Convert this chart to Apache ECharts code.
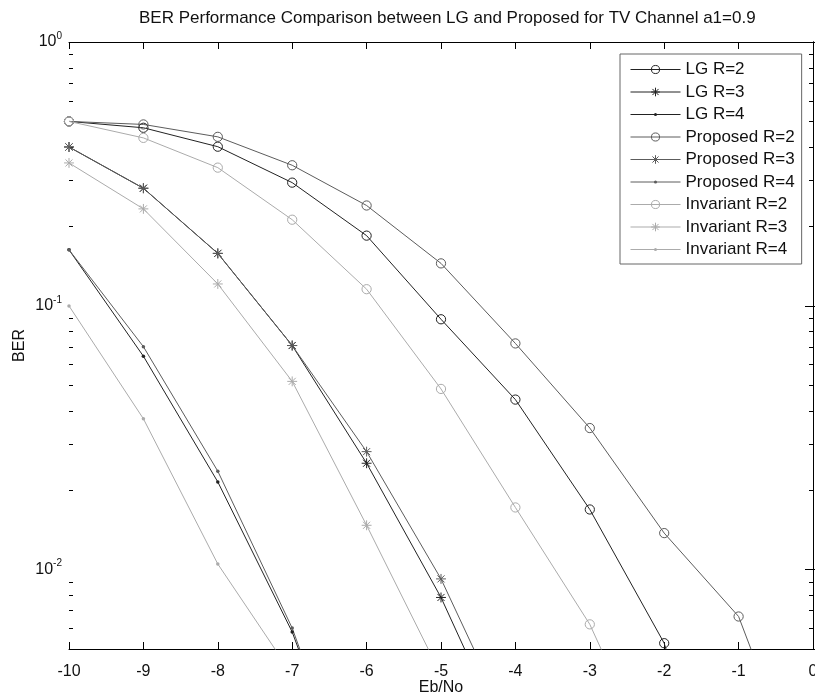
<!DOCTYPE html>
<html>
<head>
<meta charset="utf-8">
<script src="https://cdn.jsdelivr.net/npm/echarts@6/dist/echarts.min.js"></script>
<style>
  html, body { margin: 0; padding: 0; background: #fff; }
  #chart { width: 815px; height: 694px; }
</style>
</head>
<body>
<div id="chart"></div>
<script>
// Eb/No sweep (dB)
const ebNo = [-10, -9, -8, -7, -6, -5, -4, -3, -2, -1, 0];

// BER curves, one list per scheme and rate
const lgR2       = [0.50, 0.473, 0.401, 0.293, 0.1845, 0.0889, 0.0441, 0.0169, 0.00526, 0.0006];
const lgR3       = [0.40, 0.279, 0.158, 0.0707, 0.0253, 0.00784, 0.0019];
const lgR4       = [0.163, 0.0644, 0.0215, 0.0058, 0.001];
const propR2     = [0.50, 0.487, 0.437, 0.341, 0.240, 0.1448, 0.0720, 0.0344, 0.01375, 0.00664, 0.0012];
const propR3     = [0.40, 0.279, 0.158, 0.0707, 0.028, 0.00922, 0.0023];
const propR4     = [0.163, 0.070, 0.0236, 0.0060, 0.001];
const invR2      = [0.50, 0.433, 0.334, 0.212, 0.1156, 0.0484, 0.0172, 0.0062, 0.0015];
const invR3      = [0.348, 0.233, 0.121, 0.0517, 0.01472, 0.0040];
const invR4      = [0.0999, 0.0373, 0.0105, 0.0040];

const seriesNames = [
  'LG R=2', 'LG R=3', 'LG R=4',
  'Proposed R=2', 'Proposed R=3', 'Proposed R=4',
  'Invariant R=2', 'Invariant R=3', 'Invariant R=4'
];

// axis ranges and log-axis minor tick values
const xMin = -10, xMax = 0;
const yMin = 0.005, yMax = 1;
const minorTickValues = [
  0.006, 0.007, 0.008, 0.009,
  0.02, 0.03, 0.04, 0.05, 0.06, 0.07, 0.08, 0.09,
  0.2, 0.3, 0.4, 0.5, 0.6, 0.7, 0.8, 0.9
];

const FONT = '"Liberation Sans", Arial, Helvetica, sans-serif';

// marker shapes drawn in a common 10x10 box so the legend keeps proportions
const SYM_CIRCLE = 'path://M-5,-5M5,5M-4.2,0A4.2,4.2,0,1,1,4.2,0A4.2,4.2,0,1,1,-4.2,0Z';
const SYM_STAR   = 'path://M-5,-5M5,5M0,-4.5L0,4.5M-4.5,0L4.5,0M-3.2,-3.2L3.2,3.2M-3.2,3.2L3.2,-3.2';
const SYM_DOT    = 'path://M-5,-5M5,5M-1.6,0A1.6,1.6,0,1,1,1.6,0A1.6,1.6,0,1,1,-1.6,0Z';

const C_LG = '#222222', C_PROP = '#5c5c5c', C_INV = '#ababab';

const seriesStyle = [
  [lgR2, C_LG, SYM_CIRCLE], [lgR3, C_LG, SYM_STAR], [lgR4, C_LG, SYM_DOT],
  [propR2, C_PROP, SYM_CIRCLE], [propR3, C_PROP, SYM_STAR], [propR4, C_PROP, SYM_DOT],
  [invR2, C_INV, SYM_CIRCLE], [invR3, C_INV, SYM_STAR], [invR4, C_INV, SYM_DOT]
];

function pairs(vals) {
  return vals.map((v, i) => [ebNo[i], v]);
}

function curve(name, vals, color, sym) {
  const filled = sym === SYM_DOT;
  return {
    name: name,
    type: 'line',
    data: pairs(vals),
    symbol: sym,
    symbolSize: 11,
    showAllSymbol: true,
    clip: true,
    animation: false,
    color: color,
    lineStyle: { color: color, width: 1 },
    itemStyle: {
      color: filled ? color : 'rgba(0,0,0,0)',
      borderColor: color,
      borderWidth: filled ? 0 : 1
    },
    emphasis: { disabled: true }
  };
}

function powLabel(v) {
  const e = Math.log10(v);
  const r = Math.round(e);
  if (Math.abs(e - r) > 1e-6) return '';
  return '{b|10}{s|' + r + '}';
}

const chart = echarts.init(document.getElementById('chart'), null, { renderer: 'canvas' });

const tickLen = 4;

chart.setOption({
  backgroundColor: '#fff',
  animation: false,
  title: {
    text: 'BER Performance Comparison between LG and Proposed for TV Channel a1=0.9',
    left: 134,
    top: 5,
    textStyle: { fontFamily: FONT, fontSize: 17, fontWeight: 'normal', color: '#111' }
  },
  legend: {
    data: seriesNames.map((n, i) => ({
      name: n,
      itemStyle: { borderWidth: seriesStyle[i][2] === SYM_DOT ? 0 : 1 },
      lineStyle: { width: 1 }
    })),
    orient: 'vertical',
    left: 620,
    top: 54,
    itemWidth: 50,
    itemHeight: 12,
    itemGap: 5.5,
    padding: [7, 7, 6, 10],
    borderColor: '#666',
    borderWidth: 1,
    backgroundColor: '#fff',
    selectedMode: false,
    lineStyle: { width: 1 },
    textStyle: { fontFamily: FONT, fontSize: 17, color: '#111', lineHeight: 16 }
  },
  grid: { left: 69, right: 2, top: 42, bottom: 45, containLabel: false, outerBoundsMode: 'none' },
  xAxis: [
    {
      type: 'value', min: xMin, max: xMax, interval: 1, position: 'bottom',
      name: 'Eb/No', nameLocation: 'middle', nameGap: 31, nameMoveOverlap: false,
      nameTextStyle: { fontFamily: FONT, fontSize: 16, color: '#111' },
      axisLine: { show: true, lineStyle: { color: '#000', width: 1 } },
      axisTick: { show: true, inside: true, length: 7, lineStyle: { color: '#000' } },
      axisLabel: { fontFamily: FONT, fontSize: 16, color: '#111', margin: 15, hideOverlap: false },
      splitLine: { show: false }
    },
    {
      type: 'value', min: xMin, max: xMax, interval: 1, position: 'top',
      axisLine: { show: true, lineStyle: { color: '#000', width: 1 } },
      axisTick: { show: true, inside: true, length: 7, lineStyle: { color: '#000' } },
      axisLabel: { show: false },
      splitLine: { show: false }
    }
  ],
  yAxis: [
    {
      type: 'log', logBase: 10, min: yMin, max: yMax, position: 'left',
      name: 'BER', nameLocation: 'middle', nameGap: 41, nameMoveOverlap: false,
      nameTextStyle: { fontFamily: FONT, fontSize: 16, color: '#111' },
      axisLine: { show: true, lineStyle: { color: '#000', width: 1 } },
      axisTick: { show: true, inside: true, length: 8, lineStyle: { color: '#000' } },
      axisLabel: {
        margin: 7,
        formatter: powLabel,
        rich: {
          b: { fontFamily: FONT, fontSize: 16, color: '#111' },
          s: { fontFamily: FONT, fontSize: 10, color: '#111', padding: [0, 0, 12, 0] }
        }
      },
      splitLine: { show: false }
    },
    {
      type: 'log', logBase: 10, min: yMin, max: yMax, position: 'right',
      axisLine: { show: true, lineStyle: { color: '#000', width: 1 } },
      axisTick: { show: true, inside: true, length: 8, lineStyle: { color: '#000' } },
      axisLabel: { show: false },
      splitLine: { show: false }
    }
  ],
  series: seriesNames.map((n, i) => curve(n, seriesStyle[i][0], seriesStyle[i][1], seriesStyle[i][2])).concat([
    {
      // minor ticks of the log axis on both vertical edges
      name: 'minorTicks',
      type: 'custom',
      silent: true,
      clip: false,
      animation: false,
      data: minorTickValues.map(v => [xMin, v]),
      renderItem: function (params, api) {
        const v = api.value(1);
        const l = api.coord([xMin, v]);
        const r = api.coord([xMax, v]);
        const y = Math.round(l[1]) + 0.5;
        return {
          type: 'group',
          children: [
            { type: 'line', shape: { x1: l[0], y1: y, x2: l[0] + tickLen, y2: y }, style: { stroke: '#000', lineWidth: 1 } },
            { type: 'line', shape: { x1: r[0] - tickLen, y1: y, x2: r[0], y2: y }, style: { stroke: '#000', lineWidth: 1 } }
          ]
        };
      }
    }
  ])
});
</script>
</body>
</html>
